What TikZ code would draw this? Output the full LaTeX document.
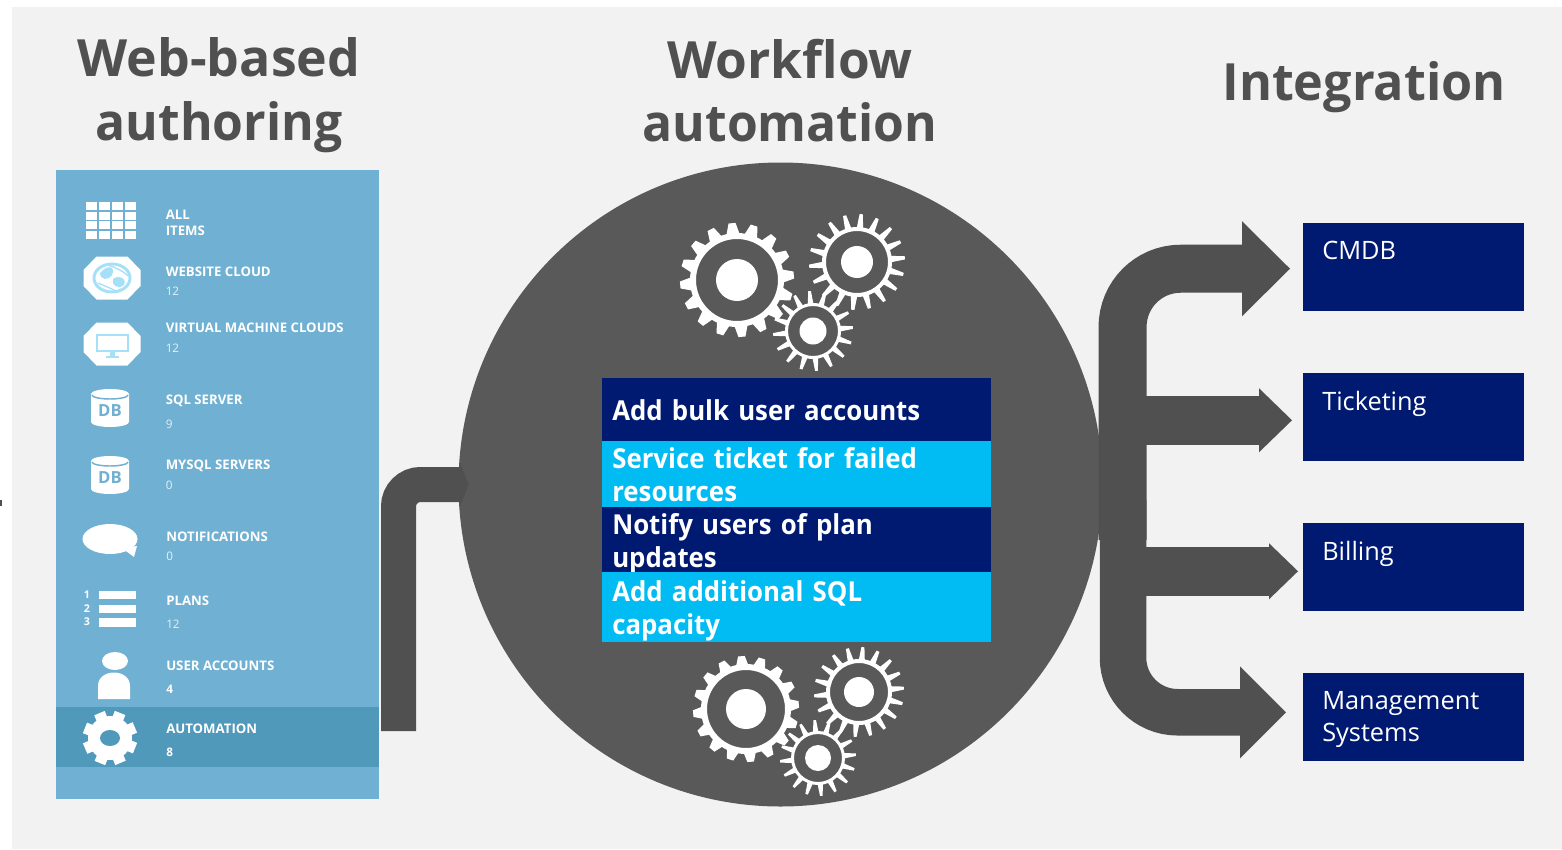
\documentclass[tikz,border=0pt]{standalone}
\usepackage{fontspec}
\usetikzlibrary{arrows.meta,calc}
\setmainfont{Open Sans}
\newfontfamily\titlefont[FakeStretch=0.97]{Open Sans}
\newfontfamily\titlewide[FakeStretch=1.01]{Open Sans}
\newfontfamily\titlemid[FakeStretch=0.98]{Open Sans}
\newfontfamily\titleplain{Open Sans}
\newfontfamily\stackfont[FakeStretch=0.94]{Open Sans}
\definecolor{pagebg}{HTML}{F2F2F2}
\definecolor{panelblue}{HTML}{70B0D2}
\definecolor{panelhi}{HTML}{5099BB}
\definecolor{navy}{HTML}{001A72}
\definecolor{cyanrow}{HTML}{00BCF2}
\definecolor{hubgrey}{HTML}{595959}
\definecolor{arrowgrey}{HTML}{505050}
\definecolor{titlegrey}{HTML}{505050}
\definecolor{iconblue}{HTML}{A4E0F8}
\definecolor{countwhite}{HTML}{E4F1F8}
% x y hub ringin ringout tip n basehalf tiphalf
\newcommand\rimgear[9]{%
  \begin{scope}[shift={(#1,#2)}]
    \fill[white] (0,0) circle[radius=#3];
    \fill[white,even odd rule] (0,0) circle[radius=#4] (0,0) circle[radius=#5];
    \foreach \k in {1,...,#7}{
      \begin{scope}[rotate=\k*360/#7+5]
        \fill[white] (#5-1,-#8) -- (#6,-#9) -- (#6,#9) -- (#5-1,#8) -- cycle;
      \end{scope}}
  \end{scope}}
\newcommand\octa[2]{%
  \fill[white] ($(#1,#2)+(-28.5,-8)$) -- ++(13,-13.5) -- ++(31,0) -- ++(13,13.5)
     -- ++(0,16) -- ++(-13,13.5) -- ++(-31,0) -- ++(-13,-13.5) -- cycle;}
\newcommand\dbicon[2]{%
  \begin{scope}[shift={(#1,#2)}]
    \fill[white] (-19,-14) arc[start angle=180,end angle=360,x radius=19,y radius=5]
      -- (19,14) arc[start angle=0,end angle=180,x radius=19,y radius=5] -- cycle;
    \draw[panelblue,line width=1.1pt] (-18,-13) arc[start angle=180,end angle=0,x radius=18,y radius=4];
    \node[dbtext] at (0,3) {DB};
  \end{scope}}
\tikzset{
  x=0.75pt,y=-0.75pt,
  bigtitle/.style={inner sep=0pt,text=titlegrey,font=\titlefont\fontsize{38.5}{47.5}\selectfont\bfseries,align=center},
  itemlabel/.style={anchor=west,inner sep=0pt,text=white,font=\fontsize{9.9}{12}\selectfont\bfseries},
  itemcount/.style={anchor=west,inner sep=0pt,text=countwhite,font=\fontsize{8.8}{10}\selectfont},
  itemcountb/.style={anchor=west,inner sep=0pt,text=white,font=\fontsize{8.8}{10}\selectfont\bfseries},
  dbtext/.style={inner sep=0pt,text=panelblue,font=\fontsize{12.5}{13}\selectfont\bfseries},
  stackrow/.style={anchor=north west,inner xsep=7.5pt,inner ysep=0pt,minimum height=#1*0.75pt,
    text width=276.75pt,align=left,text=white,font=\stackfont\fontsize{20.6}{24.75}\selectfont\bfseries},
  sysbox/.style={anchor=north west,fill=navy,minimum width=165.75pt,minimum height=66pt,inner sep=0pt,text=white},
  blockarrow/.style n args={3}{draw=arrowgrey,line width=#1*0.75pt,
    -{Triangle[length=#2*0.75pt,width=#3*0.75pt,line width=0pt,fill=arrowgrey]}},
}
\newcommand\boxtext[1]{\parbox[c][66pt][t]{165.75pt}{\vspace{13.75pt}\hspace*{14.25pt}\begin{minipage}[t]{148pt}\fontsize{19}{24}\selectfont\raggedright #1\end{minipage}}}
\begin{document}
\begin{tikzpicture}
\useasboundingbox (0,0) rectangle (1562,849);
\fill[white] (0,0) rectangle (1562,849);
\fill[pagebg] (12,7) rectangle (1562,849);
\fill[arrowgrey] (0,500) rectangle (1.5,506);

% titles
\node[bigtitle] (t1) at (219,95) {{\titlewide\bfseries Web-based}\\authoring};
\node[bigtitle] (t2) at (790,90.5) {{\titleplain\bfseries Workflow}\\automation};
\node[bigtitle] (t3) at (1364,87) {{\titlemid\bfseries Integration}};

% left panel
\fill[panelblue] (56,170) rectangle (379,799);
\fill[panelhi] (56,707) rectangle (379,767);

% grid icon
\foreach \i in {0,1,2,3} \foreach \j in {0,1,2,3}
  \fill[white] ({86+\i*12.9},{202+\j*9.55}) rectangle ++(11.2,8.2);
\node[itemlabel] (l1) at (165.5,215) {ALL};
\node[itemlabel] (l1b) at (165.5,231) {ITEMS};

% website cloud icon
\octa{112}{278}
\draw[iconblue,line width=2.2pt] (112,278) ellipse[x radius=18,y radius=14];
\fill[iconblue] (100,273) .. controls (108,264) and (116,266) .. (112,275) .. controls (108,281) and (100,280) .. cycle;
\fill[iconblue] (113,279) .. controls (120,274) and (127,279) .. (124,285) .. controls (118,290) and (111,285) .. cycle;
\draw[iconblue,line width=1pt] (98,283) .. controls (105,286) and (110,288) .. (116,291);
\draw[iconblue,line width=1pt] (108,265) .. controls (116,268) and (122,270) .. (128,276);
\node[itemlabel] (l2) at (165.5,272) {WEBSITE CLOUD};
\node[itemcount] (c2) at (165.5,291) {12};

% vm cloud icon
\octa{112}{344}
\draw[iconblue,line width=1.4pt] (97,335) rectangle (128,351);
\fill[iconblue] (110,352) rectangle (115,356);
\fill[iconblue] (106,355.5) rectangle (119,358);
\node[itemlabel] (l3) at (165.5,328) {VIRTUAL MACHINE CLOUDS};
\node[itemcount] (c3) at (165.5,348) {12};

% db icons
\dbicon{110}{408}
\node[itemlabel] (l4) at (165.5,401) {SQL SERVER};
\node[itemcount] (c4) at (165.5,424) {9};
\dbicon{110}{475}
\node[itemlabel] (l5) at (165.5,466) {MYSQL SERVERS};
\node[itemcount] (c5) at (165.5,485) {0};

% bubble icon
\fill[white] (110,539) ellipse[x radius=27.5,y radius=15];
\fill[white] (122,548) -- (134,557) -- (137,546) -- cycle;
\node[itemlabel] (l6) at (166,537) {NOTIFICATIONS};
\node[itemcount] (c6) at (166,556) {0};

% plans icon
\fill[white] (99,591) rectangle (136,599);
\fill[white] (99,605) rectangle (136,613);
\fill[white] (99,618) rectangle (136,627);
\node[inner sep=0pt,text=white,font=\fontsize{8}{8}\selectfont\bfseries] (d1) at (87,595) {1};
\node[inner sep=0pt,text=white,font=\fontsize{8}{8}\selectfont\bfseries] (d2) at (87,609) {2};
\node[inner sep=0pt,text=white,font=\fontsize{8}{8}\selectfont\bfseries] (d3) at (87,622) {3};
\node[itemlabel] (l7) at (166,601) {PLANS};
\node[itemcount] (c7) at (166,624) {12};

% user icon
\fill[white] (115,661) ellipse[x radius=13,y radius=9];
\fill[white] (98,699) -- (98,686) .. controls (98,668) and (130,668) .. (130,686) -- (130,699) -- cycle;
\node[itemlabel] (l8) at (166,666) {USER ACCOUNTS};
\node[itemcountb] (c8) at (166,689) {4};

% automation icon
\begin{scope}[shift={(110,738)}]
  \foreach \a in {0,45,...,315}
    \draw[white,line width=8.5pt] (\a+22:12) -- (\a+22:27);
  \fill[white] (0,0) circle[radius=22];
  \fill[panelhi] (0,0) ellipse[x radius=10,y radius=8];
\end{scope}
\node[itemlabel] (l9) at (166,729) {AUTOMATION};
\node[itemcountb] (c9) at (166,752) {8};

% hub
\node[circle,fill=hubgrey,minimum size=483pt,inner sep=0pt] (hub) at (780.5,484.5) {};

% gears
\rimgear{737}{280}{21}{41}{47}{57}{16}{6.5}{3.5}
\rimgear{857}{262}{16}{31}{35}{48}{18}{3.2}{1.6}
\rimgear{813}{331}{13.5}{25}{28}{40}{16}{2.8}{1.4}
\rimgear{746}{709}{20}{39}{45}{53}{16}{6}{3.3}
\rimgear{859}{692}{15}{29}{33}{45}{18}{3}{1.5}
\rimgear{818}{758}{13}{24}{27}{38}{16}{2.7}{1.3}

% stack
\node[stackrow=63,fill=navy] (s1) at (602,378) {Add bulk user accounts};
\node[stackrow=66,fill=cyanrow] (s2) at (602,441) {Service ticket for failed\\resources};
\node[stackrow=65,fill=navy,text depth=23.75pt] (s3) at (602,507) {Notify users of plan\\updates};
\node[stackrow=70,fill=cyanrow,text depth=23.75pt] (s4) at (602,572) {Add additional SQL\\capacity};

% right boxes
\node[sysbox] (cmdb) at (1303,223) {\boxtext{CMDB}};
\node[sysbox] (tick) at (1303,373) {\boxtext{Ticketing}};
\node[sysbox] (bill) at (1303,523) {\boxtext{Billing}};
\node[sysbox] (mgmt) at (1303,673) {\boxtext{Management\\Systems}};

% block arrows
\coordinate (inStart) at (398.5,731);
\draw[blockarrow={35}{9}{44},rounded corners=16.5pt,shorten >=-7.9pt]
  (inStart) |- (hub.west);
\coordinate (trunkTop) at (1122.6,540);
\coordinate (trunkLow) at (1123,500);
\draw[blockarrow={48}{48}{95},rounded corners=43.5pt,shorten >=9.75pt]
  (trunkTop) |- ([yshift=-1.1pt]cmdb.west);
\draw[blockarrow={46.5}{46}{92},rounded corners=41pt,shorten >=12.75pt]
  (trunkLow) |- ([yshift=3.75pt]mgmt.west);
\draw[blockarrow={49}{33}{64},shorten >=8.25pt]
  ([yshift=-2.25pt]tick.west -| trunkTop) -- ([yshift=-2.25pt]tick.west);
\draw[blockarrow={49}{29}{56},shorten >=3.75pt]
  ([yshift=-3pt]bill.west -| trunkTop) -- ([yshift=-3pt]bill.west);
\end{tikzpicture}
\end{document}
